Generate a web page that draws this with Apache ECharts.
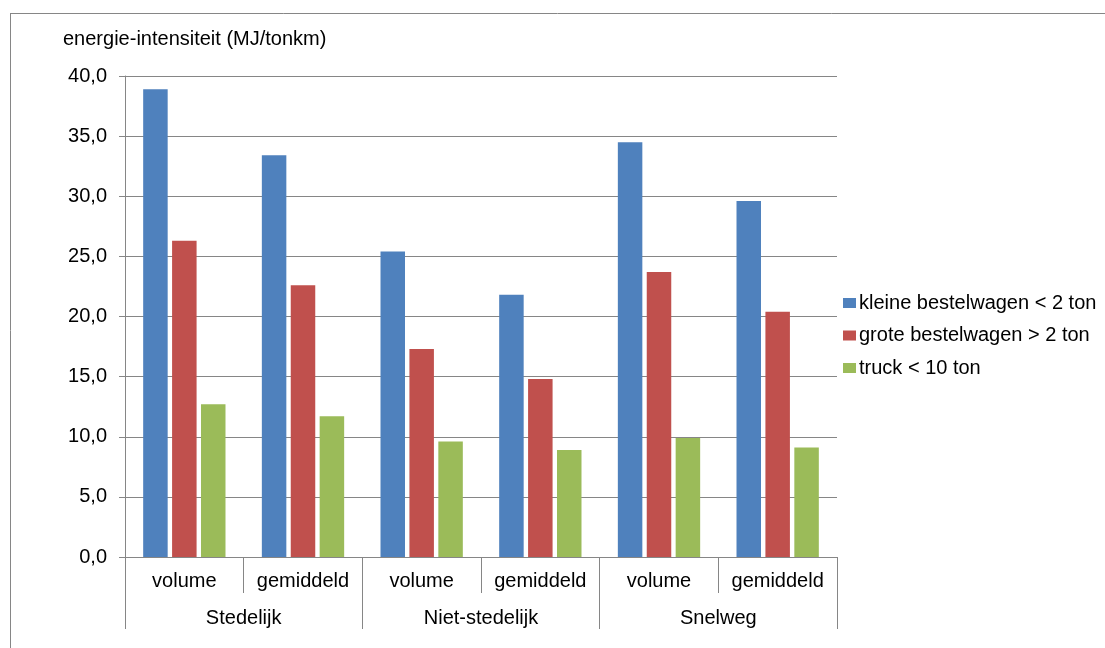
<!DOCTYPE html>
<html>
<head>
<meta charset="utf-8">
<script src="https://cdn.jsdelivr.net/npm/echarts@6/dist/echarts.min.js"></script>
<style>
  html, body { margin: 0; padding: 0; background: #ffffff; }
  #chart { width: 1105px; height: 648px; }
</style>
</head>
<body>
<div id="chart"></div>
<script>
// Energy intensity per road type and load basis
const groups = ['Stedelijk', 'Niet-stedelijk', 'Snelweg'];
const subCategories = ['volume', 'gemiddeld', 'volume', 'gemiddeld', 'volume', 'gemiddeld'];
const seriesNames = ['kleine bestelwagen < 2 ton', 'grote bestelwagen > 2 ton', 'truck < 10 ton'];
const smallVan = [38.9, 33.4, 25.4, 21.8, 34.5, 29.6];
const largeVan = [26.3, 22.6, 17.3, 14.8, 23.7, 20.4];
const truck = [12.7, 11.7, 9.6, 8.9, 9.9, 9.1];
const yTicks = { min: 0, max: 40, step: 5 };
const yTitle = 'energie-intensiteit (MJ/tonkm)';

const FONT = 'Liberation Sans, Arial, sans-serif';
const FS = 20;
const GRID_GREY = '#868686';
const colors = ['#4F81BD', '#C0504D', '#9BBB59'];
const values = [smallVan, largeVan, truck];

const chart = echarts.init(document.getElementById('chart'), null, { renderer: 'canvas' });

chart.setOption({
  animation: false,
  backgroundColor: '#ffffff',
  color: colors,
  textStyle: { fontFamily: FONT, color: '#000000' },
  grid: { left: 125, top: 76, width: 712, height: 481, containLabel: false },
  graphic: [
    { type: 'line', silent: true, shape: { x1: 10, y1: 13.5, x2: 1105, y2: 13.5 }, style: { stroke: GRID_GREY, lineWidth: 1 } },
    { type: 'line', silent: true, shape: { x1: 10.5, y1: 13, x2: 10.5, y2: 648 }, style: { stroke: GRID_GREY, lineWidth: 1 } },
    { type: 'text', silent: true, left: 63, top: 29, style: { text: yTitle, font: FS + 'px ' + FONT, fill: '#000000' } }
  ],
  legend: {
    orient: 'vertical',
    left: 843,
    top: 293,
    padding: 0,
    itemWidth: 13,
    itemHeight: 10,
    itemGap: 12.5,
    icon: 'rect',
    data: seriesNames,
    textStyle: { fontFamily: FONT, fontSize: FS, color: '#000000', lineHeight: 20, padding: [0, 0, 0, -2] }
  },
  xAxis: [
    {
      type: 'category',
      data: subCategories,
      position: 'bottom',
      axisLine: { show: true, lineStyle: { color: GRID_GREY, width: 1 } },
      axisTick: { show: true, length: 36, lineStyle: { color: GRID_GREY } },
      axisLabel: { margin: 14, fontFamily: FONT, fontSize: FS, color: '#000000', interval: 0 },
      splitLine: { show: false }
    },
    {
      type: 'category',
      data: groups,
      position: 'bottom',
      offset: 0,
      axisLine: { show: false },
      axisTick: { show: true, length: 72, lineStyle: { color: GRID_GREY } },
      axisLabel: { margin: 51, fontFamily: FONT, fontSize: FS, color: '#000000', interval: 0 },
      splitLine: { show: false }
    }
  ],
  yAxis: {
    type: 'value',
    min: yTicks.min,
    max: yTicks.max,
    interval: yTicks.step,
    axisLine: { show: true, lineStyle: { color: GRID_GREY, width: 1 } },
    axisTick: { show: true, length: 6, lineStyle: { color: GRID_GREY } },
    axisLabel: {
      margin: 18,
      fontFamily: FONT,
      fontSize: FS,
      color: '#000000',
      formatter: v => v.toFixed(1).replace('.', ',')
    },
    splitLine: { show: true, lineStyle: { color: GRID_GREY, width: 1 } }
  },
  series: seriesNames.map((name, i) => ({
    name: name,
    type: 'bar',
    xAxisIndex: 0,
    data: values[i],
    barWidth: 24.5,
    barGap: '18%',
    itemStyle: { color: colors[i] }
  }))
});
</script>
</body>
</html>
